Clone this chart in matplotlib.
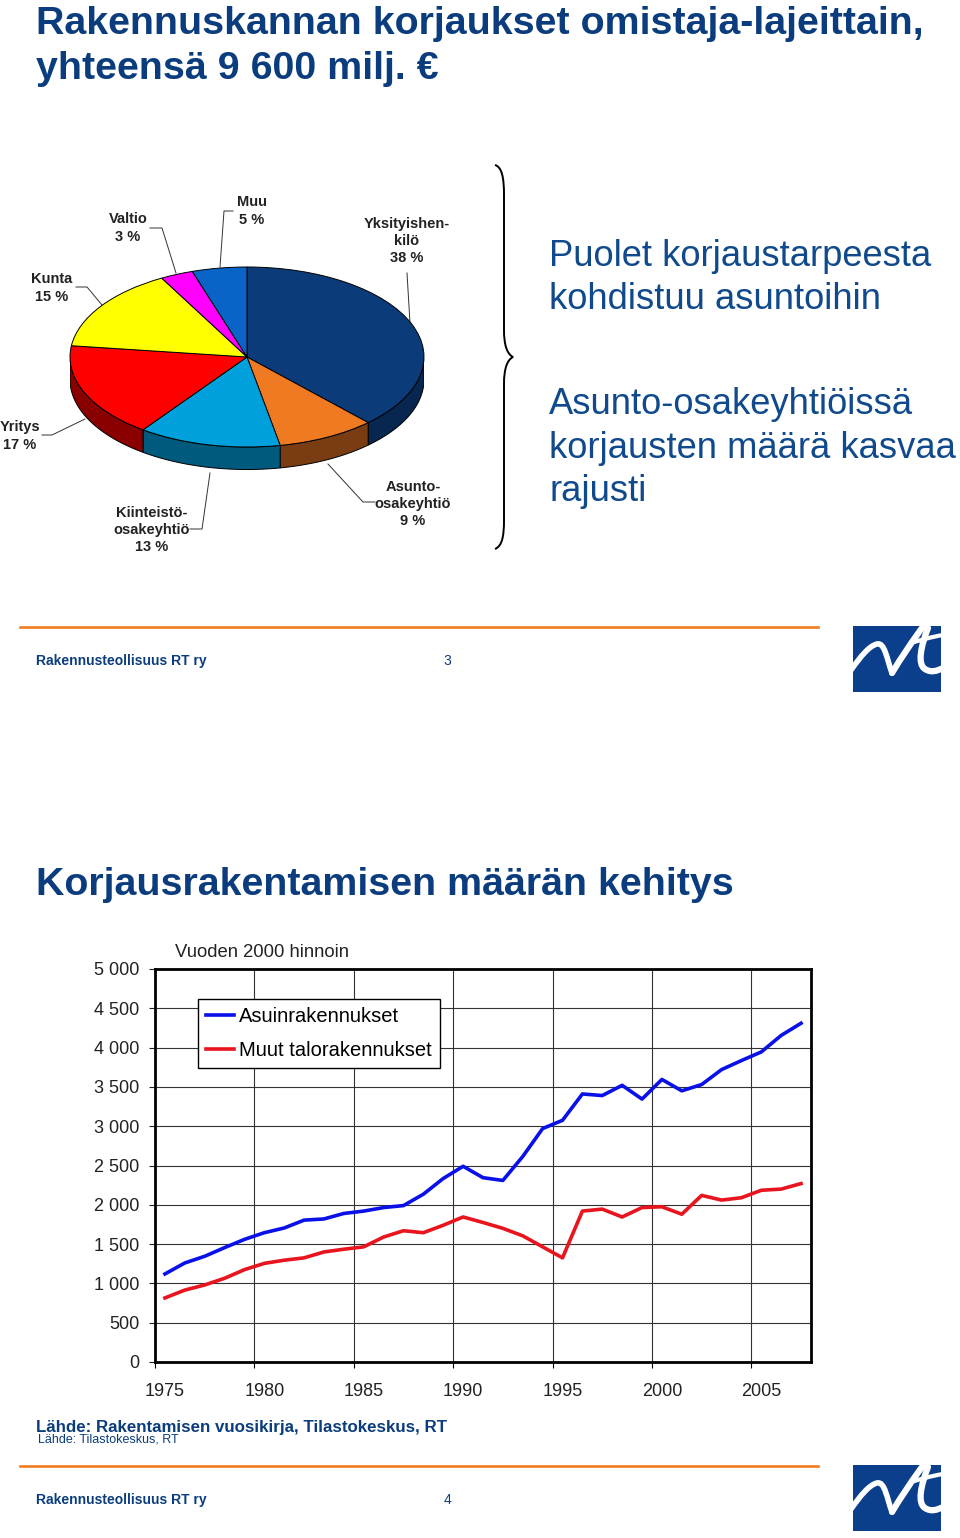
import numpy as np
import matplotlib
matplotlib.use("Agg")
import matplotlib.pyplot as plt
from matplotlib.path import Path
from matplotlib.patches import PathPatch, Rectangle, Polygon

plt.rcParams['font.family'] = ['Liberation Sans', 'DejaVu Sans']

# slide 3: repairs by owner type (total 9 600 M EUR)
owners = ["Yksityishen-\nkilö", "Asunto-\nosakeyhtiö", "Kiinteistö-\nosakeyhtiö",
          "Yritys", "Kunta", "Valtio", "Muu"]
shares = [38, 9, 13, 17, 15, 3, 5]
top_colors = ["#0b3b78", "#f07a22", "#00a0dc", "#ff0000", "#ffff00", "#ff00ff", "#0a64c8"]
side_colors = ["#072650", "#7a3c12", "#005a7d", "#8a0000", "#8a8a00", "#800080", "#063870"]

# slide 4: repair construction volume, 2000 prices
years = list(range(1975, 2008))
asuin = [1120, 1260, 1345, 1455, 1560, 1645, 1705, 1805, 1820, 1890, 1920, 1965, 1990,
         2135, 2335, 2490, 2345, 2310, 2615, 2970, 3075, 3410, 3390, 3520, 3345, 3595,
         3450, 3530, 3720, 3835, 3945, 4155, 4310]
muut = [815, 915, 980, 1065, 1175, 1255, 1295, 1325, 1400, 1435, 1465, 1590, 1670,
        1645, 1740, 1845, 1775, 1700, 1605, 1465, 1325, 1920, 1945, 1845, 1965, 1975,
        1880, 2120, 2060, 2090, 2185, 2200, 2270]
series_names = ["Asuinrakennukset", "Muut talorakennukset"]
year_ticks = [1975, 1980, 1985, 1990, 1995, 2000, 2005]

W, H = 960, 1538
TITLE = "#0b3d7e"
TEXT_BLUE = "#104a8c"
ORANGE = "#f07d1e"

fig = plt.figure(figsize=(W / 100, H / 100), dpi=100)


def px_axes(left, top, right, bottom):
    return fig.add_axes([left / W, 1 - bottom / H, (right - left) / W, (bottom - top) / H])


# overlay in pixel coordinates for all slide decorations
ov = fig.add_axes([0, 0, 1, 1])
ov.set_xlim(0, W)
ov.set_ylim(H, 0)
ov.axis('off')


def draw_logo(x0, y0):
    box = Rectangle((x0, y0), 88, 66, fc="#0b3f8c", ec="none")
    ov.add_patch(box)
    M, C = Path.MOVETO, Path.CURVE4
    strokes = [
        # r: rises from the left edge, humps and drops
        ([(-2, 44), (8, 30), (16, 20), (24, 18), (32, 16), (34, 34), (39, 47)],
         [M, C, C, C, C, C, C], 4.0),
        # long stroke up to the top right
        ([(39, 47), (48, 32), (60, 14), (72, -2)], [M, C, C, C], 4.5),
        # t stem curling out to the right
        ([(75, 2), (68, 20), (64, 38), (72, 43), (78, 47), (84, 45), (90, 42)],
         [M, C, C, C, C, C, C], 4.5),
        # t crossbar
        ([(58, 17), (68, 14), (78, 11), (90, 9)], [M, C, C, C], 3.0),
    ]
    for pts, codes, lw in strokes:
        pts = [(x0 + a, y0 + b) for a, b in pts]
        p = PathPatch(Path(pts, codes), fc="none", ec="white", lw=lw, capstyle='round')
        ov.add_patch(p)
        p.set_clip_path(box)


def footer(y_line, page):
    ov.plot([20, 818], [y_line, y_line], color=ORANGE, lw=1.9)
    ov.text(36, y_line + 38, "Rakennusteollisuus RT ry", fontsize=10, fontweight='bold',
            color=TITLE, va='baseline')
    ov.text(447, y_line + 38, str(page), fontsize=10, color=TITLE, va='baseline', ha='center')
    draw_logo(853, y_line - 1)


# ---------------- slide 3 ----------------
ov.text(36, 34, "Rakennuskannan korjaukset omistaja-lajeittain,", fontsize=28.4,
        fontweight='bold', color=TITLE, va='baseline')
ov.text(36, 79, "yhteensä 9 600 milj. €", fontsize=28.4, fontweight='bold',
        color=TITLE, va='baseline')

# 3D-looking pie: squashed pie plus a visible rim on the front half
pie_ax = px_axes(70, 267, 424, 469.5)
depth = 0.25
pie_ax.pie(shares, colors=top_colors, startangle=90, counterclock=False,
           wedgeprops=dict(edgecolor='black', linewidth=0.7))
pie_ax.set_aspect('auto')
pie_ax.set_xlim(-1, 1)
pie_ax.set_ylim(-1 - depth, 1)
cum = np.cumsum([0] + shares) / sum(shares)
for i in range(len(shares)):
    a = max(90 - 360 * cum[i + 1], -180)
    b = min(90 - 360 * cum[i], 0)
    if a >= b:
        continue
    t = np.radians(np.linspace(a, b, 80))
    top = np.column_stack([np.cos(t), np.sin(t)])
    bot = np.column_stack([np.cos(t), np.sin(t) - depth])[::-1]
    pie_ax.add_patch(Polygon(np.vstack([top, bot]), closed=True, fc=side_colors[i],
                             ec='black', lw=0.7, zorder=0.5))

label_pos = [(407, 241), (413, 504), (152, 530), (20, 436), (52, 288), (128, 228), (252, 211)]
leaders = [
    [(407, 273), (410, 323)],
    [(375, 502), (363, 502), (328, 464)],
    [(190, 529), (202, 529), (210, 473)],
    [(42, 435), (52, 435), (85, 419)],
    [(76, 287), (87, 287), (102, 305)],
    [(150, 228), (162, 228), (176, 273)],
    [(233, 211), (224, 211), (220, 267)],
]
for name, share, (lx, ly), line in zip(owners, shares, label_pos, leaders):
    ov.text(lx, ly, f"{name}\n{share} %", fontsize=10.5, fontweight='bold', color='#222222',
            ha='center', va='center', linespacing=1.3)
    xs, ys = zip(*line)
    ov.plot(xs, ys, color='#333333', lw=0.7)

# curly brace
M, C, L = Path.MOVETO, Path.CURVE4, Path.LINETO
brace = [(495, 165), (502, 167), (504, 178), (504, 195), (504, 330),
         (504, 345), (507, 354), (513, 357),
         (507, 360), (504, 369), (504, 384), (504, 520),
         (504, 537), (502, 546), (495, 549)]
codes = [M, C, C, C, L, C, C, C, C, C, C, L, C, C, C]
ov.add_patch(PathPatch(Path(brace, codes), fc='none', ec='black', lw=1.4))

right_lines = [("Puolet korjaustarpeesta", 266), ("kohdistuu asuntoihin", 309),
               ("Asunto-osakeyhtiöissä", 414), ("korjausten määrä kasvaa", 458),
               ("rajusti", 501)]
for txt, yb in right_lines:
    ov.text(549, yb, txt, fontsize=26.2, color=TEXT_BLUE, va='baseline')

footer(627, 3)

# ---------------- slide 4 ----------------
ov.text(36, 895, "Korjausrakentamisen määrän kehitys", fontsize=28.4, fontweight='bold',
        color=TITLE, va='baseline')
ov.text(175, 957, "Vuoden 2000 hinnoin", fontsize=13.3, color='#222222', va='baseline')

ax = px_axes(155, 969, 811, 1362)
ax.plot(years, asuin, color='#0a10e8', lw=2.6, label=series_names[0], zorder=3)
ax.plot(years, muut, color='#e8141e', lw=2.6, label=series_names[1], zorder=3)
ax.set_xlim(years[0] - 0.5, years[-1] + 0.5)
ax.set_ylim(0, 5000)
ax.set_yticks(np.arange(0, 5001, 500))
ax.set_yticklabels([f"{v:,}".replace(",", " ") for v in range(0, 5001, 500)])
ax.set_xticks(year_ticks)
ax.set_xticks(np.arange(years[0] - 0.5, years[-1], 5), minor=True)
ax.tick_params(axis='y', length=4, width=0.8, pad=7, labelsize=13, colors='#222222')
ax.tick_params(axis='x', which='major', length=0, pad=15, labelsize=13, colors='#222222')
ax.tick_params(axis='x', which='minor', length=4, width=0.8)
ax.grid(axis='y', which='major', color='#333333', lw=0.8)
ax.grid(axis='x', which='minor', color='#333333', lw=0.8)
for s in ax.spines.values():
    s.set_linewidth(2)
    s.set_color('black')
leg = ax.legend(loc='upper left', bbox_to_anchor=((198 - 155) / 656, (1362 - 999) / 393),
                borderaxespad=0, fontsize=14.5, frameon=True, fancybox=False,
                edgecolor='black', framealpha=1, handlelength=1.4, handletextpad=0.25,
                borderpad=0.4, labelspacing=0.75)
leg.get_frame().set_linewidth(1)

ov.text(36, 1432, "Lähde: Rakentamisen vuosikirja, Tilastokeskus, RT", fontsize=12.2,
        fontweight='bold', color=TITLE, va='baseline')
ov.text(38, 1442, "Lähde: Tilastokeskus, RT", fontsize=9, color=TITLE, va='baseline')

footer(1466, 4)

fig.savefig("out.png", dpi=100)
